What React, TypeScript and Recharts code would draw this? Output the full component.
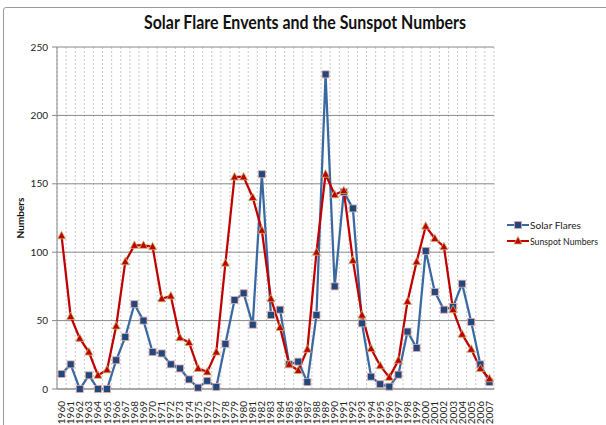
import { LineChart, Line, XAxis, YAxis, CartesianGrid } from 'recharts';

const years = [
  '1960', '1961', '1962', '1963', '1964', '1965', '1966', '1967', '1968', '1969',
  '1970', '1971', '1972', '1973', '1974', '1975', '1976', '1977', '1978', '1979',
  '1980', '1981', '1982', '1983', '1984', '1985', '1986', '1987', '1988', '1989',
  '1990', '1991', '1992', '1993', '1994', '1995', '1996', '1997', '1998', '1999',
  '2000', '2001', '2002', '2003', '2004', '2005', '2006', '2007',
];

const solarFlares = [
  11, 18, 0, 10, 0, 0, 21, 38, 62, 50,
  27, 26, 18, 15, 7, 1, 6, 1.5, 33, 65,
  70, 47, 157, 54, 58, 18, 20, 5, 54, 230,
  75, 144, 132, 48, 9, 3.5, 1.7, 10.5, 42, 30,
  101, 71, 58, 60, 77, 49, 18, 5,
];

const sunspotNumbers = [
  112, 53, 37, 27, 10, 14, 46, 93, 105, 105,
  104, 66, 68, 37.5, 34, 15, 12.5, 27, 92, 155,
  155, 140, 116, 66, 45, 18, 13.5, 29, 100, 157,
  142, 145, 94, 54, 29.5, 17, 8.5, 21, 64, 93,
  119, 110, 104, 58, 40, 29, 15, 7.5,
];

const yTicks = [0, 50, 100, 150, 200, 250];

const seriesNames = ['Solar Flares', 'Sunspot Numbers'];

const chartData = years.map((year, i) => ({
  year,
  flares: solarFlares[i],
  sunspots: sunspotNumbers[i],
}));

const FONT = 'Lato, "Open Sans", sans-serif';
const BLUE_LINE = '#3A68A0';
const BLUE_MARK = '#1F497D';
const RED = '#C00000';

const W = 606;
const H = 425;
const MARGIN = { top: 47, right: 112, bottom: 0, left: 0 };
const Y_W = 57;
const X_H = 36;

function SquareDot(props: any) {
  const { cx, cy } = props;
  if (cx == null || cy == null) return null;
  return <rect x={cx - 3.5} y={cy - 3.5} width={7} height={7} fill={BLUE_MARK} stroke="#E6A8A8" strokeWidth={0.8} />;
}

function TriangleDot(props: any) {
  const { cx, cy } = props;
  if (cx == null || cy == null) return null;
  return (
    <polygon
      points={`${cx},${cy - 4.5} ${cx + 4},${cy + 3} ${cx - 4},${cy + 3}`}
      fill={RED}
      stroke="#C8B56A"
      strokeWidth={0.8}
    />
  );
}

function YearTick({ x, y, payload }: any) {
  return (
    <text
      transform={`translate(${x + 3.5},${y + 4}) rotate(-90)`}
      textAnchor="end"
      fontSize={10}
      fontFamily={FONT}
      fill="#222"
    >
      {payload.value}
    </text>
  );
}

// legend drawn outside the chart so it doesn't eat plot space
function LegendBox() {
  const colors = [BLUE_LINE, RED];
  const widths = [51, 68];
  return (
    <svg width={100} height={36} style={{ position: 'absolute', left: 506, top: 217 }}>
      {seriesNames.map((label, i) => {
        const cy = 8 + i * 16;
        return (
          <g key={label}>
            <line x1={1} x2={23} y1={cy} y2={cy} stroke={colors[i]} strokeWidth={2} />
            {i === 0 ? <SquareDot cx={12} cy={cy} /> : <TriangleDot cx={12} cy={cy} />}
            <text
              x={24}
              y={cy + 3.5}
              fontSize={10}
              fontFamily={FONT}
              fill="#222"
              textLength={widths[i]}
              lengthAdjust="spacingAndGlyphs"
            >
              {label}
            </text>
          </g>
        );
      })}
    </svg>
  );
}

export default function App() {
  const plotW = W - MARGIN.left - MARGIN.right - Y_W;
  const plotL = MARGIN.left + Y_W;

  return (
    <div style={{ position: 'fixed', left: 0, top: 0, width: W, height: H, overflow: 'hidden', background: '#fff' }}>
      <div
        style={{
          position: 'absolute',
          left: 3,
          top: 7,
          width: 640,
          height: 460,
          border: '1px solid #9a9a9a',
          borderRadius: 3,
        }}
      />
      <svg width={W} height={40} style={{ position: 'absolute', left: 0, top: 0 }}>
        <text
          x={305}
          y={29}
          textAnchor="middle"
          fontSize={18}
          fontWeight="bold"
          fontFamily={FONT}
          fill="#111"
          textLength={322}
          lengthAdjust="spacingAndGlyphs"
        >
          Solar Flare Envents and the Sunspot Numbers
        </text>
      </svg>
      <div style={{ position: 'absolute', left: 0, top: 0 }}>
        <LineChart width={W} height={H} data={chartData} margin={MARGIN}>
          <CartesianGrid
            horizontal={false}
            stroke="#c8c8c8"
            strokeDasharray="2 2"
            verticalCoordinatesGenerator={(args: any) => {
              const left = args?.offset?.left ?? plotL;
              const width = args?.offset?.width ?? plotW;
              return years.map((_, i) => left + (i * width) / years.length).concat(left + width);
            }}
          />
          <CartesianGrid vertical={false} stroke="#8a8a8a" />
          <XAxis
            dataKey="year"
            scale="band"
            interval={0}
            height={X_H}
            tick={<YearTick />}
            tickLine={false}
            axisLine={{ stroke: '#8a8a8a' }}
          />
          <YAxis
            domain={[0, 250]}
            ticks={yTicks}
            width={Y_W}
            tickSize={5}
            tickMargin={4}
            tick={{ fontSize: 10, fontFamily: FONT, fill: '#222' }}
            tickLine={{ stroke: '#8a8a8a' }}
            axisLine={{ stroke: '#8a8a8a' }}
            label={{
              content: () => (
                <text
                  transform="translate(24,218) rotate(-90)"
                  textAnchor="middle"
                  fontSize={10}
                  fontWeight="bold"
                  fontFamily={FONT}
                  fill="#111"
                >
                  Numbers
                </text>
              ),
            }}
          />
          <Line
            type="linear"
            dataKey="flares"
            name={seriesNames[0]}
            stroke={BLUE_LINE}
            strokeWidth={2.25}
            dot={<SquareDot />}
            activeDot={false}
            isAnimationActive={false}
          />
          <Line
            type="linear"
            dataKey="sunspots"
            name={seriesNames[1]}
            stroke={RED}
            strokeWidth={2.25}
            dot={<TriangleDot />}
            activeDot={false}
            isAnimationActive={false}
          />
        </LineChart>
      </div>
      <LegendBox />
    </div>
  );
}
